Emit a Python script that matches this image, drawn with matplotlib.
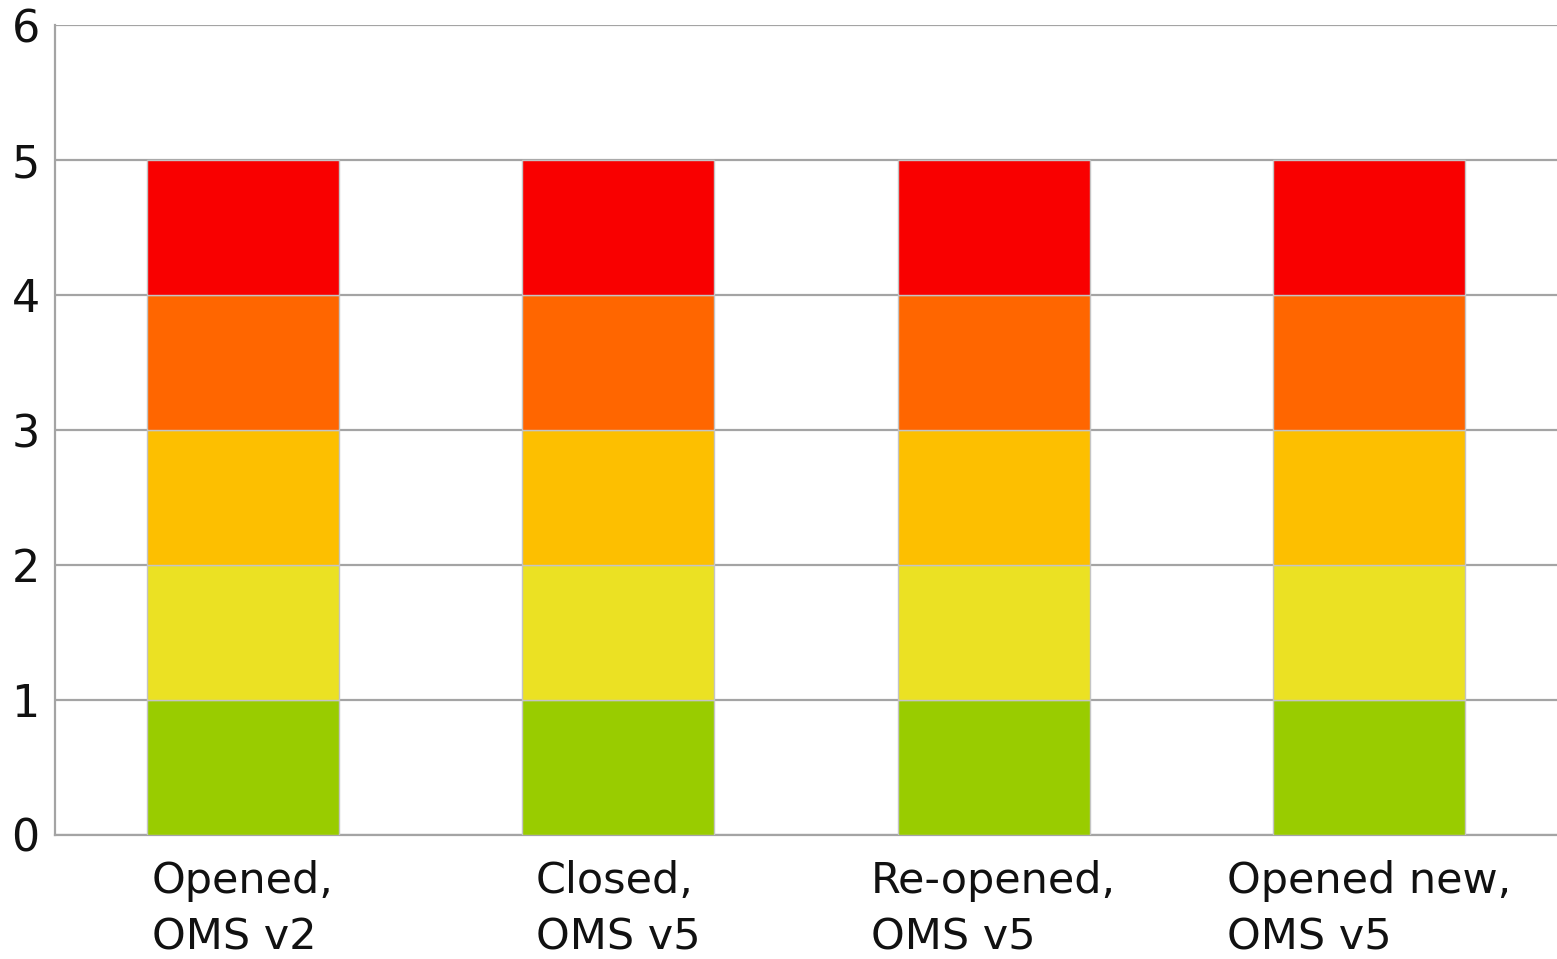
import matplotlib.pyplot as plt
import numpy as np

# Categories and stacked segment values
categories = ["Opened,\nOMS v2", "Closed,\nOMS v5", "Re-opened,\nOMS v5", "Opened new,\nOMS v5"]
green = [1, 1, 1, 1]
yellow = [1, 1, 1, 1]
amber = [1, 1, 1, 1]
orange = [1, 1, 1, 1]
red = [1, 1, 1, 1]
series = [green, yellow, amber, orange, red]
colors = ['#99cc00', '#ebe123', '#fdbf00', '#ff6600', '#f90000']
y_ticks = [0, 1, 2, 3, 4, 5, 6]

fig = plt.figure(figsize=(15.57, 9.59), dpi=100)
ax = fig.add_axes([55 / 1557, (959 - 835) / 959, 1 - 55 / 1557, (835 - 25) / 959])

x = np.arange(len(categories))
bottom = np.zeros(len(categories))
for vals, c in zip(series, colors):
    ax.bar(x, vals, width=0.51, bottom=bottom, color=c, edgecolor='#c4c4c4',
           linewidth=1.0, zorder=3)
    bottom += np.array(vals)

ax.set_xlim(-0.5, 3.5)
ax.set_ylim(0, 6)
ax.set_yticks(y_ticks)
ax.set_yticklabels([str(t) for t in y_ticks], fontsize=32, color='#111111')
ax.set_xticks(x)
ax.set_xticklabels(categories, fontsize=31, color='#111111',
                   multialignment='left', linespacing=1.45)
ax.tick_params(axis='both', length=0)
ax.tick_params(axis='y', pad=11)
ax.tick_params(axis='x', pad=18)

ax.grid(axis='y', color='#a4a4a4', linewidth=1.6, zorder=0)
for side in ['right', 'top']:
    ax.spines[side].set_visible(False)
for side in ['left', 'bottom']:
    ax.spines[side].set_color('#a4a4a4')
    ax.spines[side].set_linewidth(1.6)

fig.savefig('out.png', dpi=100)
